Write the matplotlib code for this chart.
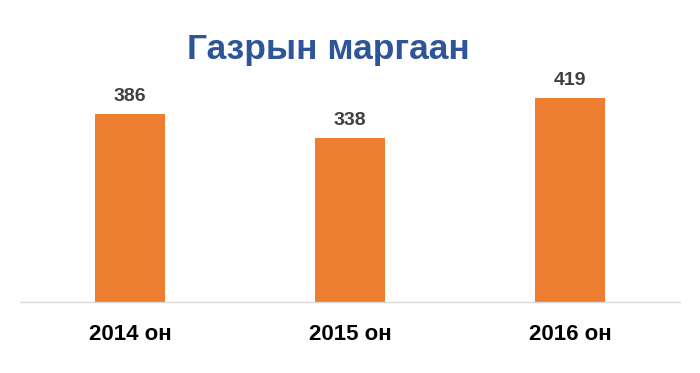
import matplotlib
matplotlib.use("Agg")
import matplotlib.pyplot as plt

years = ['2014 он', '2015 он', '2016 он']
values = [386, 338, 419]

plt.rcParams['font.family'] = ['Liberation Sans', 'DejaVu Sans']

fig = plt.figure(figsize=(7, 3.73), dpi=100)
ax = fig.add_axes([20 / 700, 71 / 373, 660 / 700, 292 / 373])

x = range(len(values))
ax.bar(x, values, width=0.32, color='#ED7D31')
for xi, v in zip(x, values):
    ax.text(xi, v + 18, str(v), ha='center', va='bottom', fontsize=14,
            fontweight='bold', color='#404040')

ax.set_xlim(-0.5, 2.5)
ax.set_ylim(0, 600)
ax.set_xticks(list(x))
ax.set_xticklabels(years, fontsize=16, fontweight='bold', color='black')
ax.tick_params(axis='x', length=0, pad=16)
ax.set_yticks([])
for s in ['top', 'right', 'left']:
    ax.spines[s].set_visible(False)
ax.spines['bottom'].set_color('#d9d9d9')
ax.spines['bottom'].set_linewidth(1)

fig.text(328 / 700, 1 - 49 / 373, 'Газрын маргаан', ha='center', va='center',
         fontsize=25.5, fontweight='bold', color='#2E5597')

fig.savefig('out.png', dpi=100)
